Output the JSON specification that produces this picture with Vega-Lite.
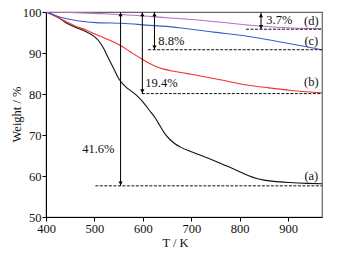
{
  "$schema": "https://vega.github.io/schema/vega-lite/v6.json",
  "autosize": {"type": "none"},
  "width": 276,
  "height": 205,
  "padding": {"left": 46, "top": 12, "right": 24, "bottom": 37},
  "background": "white",
  "config": {
    "view": {"stroke": "#666", "strokeWidth": 1.2},
    "font": "Times New Roman, Liberation Serif, serif",
    "text": {"font": "Times New Roman, Liberation Serif, serif"},
    "axis": {"grid": false, "domainColor": "#000", "tickColor": "#000", "labelColor": "#111", "titleColor": "#111", "labelFont": "Times New Roman, Liberation Serif, serif", "titleFont": "Times New Roman, Liberation Serif, serif", "labelFontSize": 12.5, "titleFontSize": 12.5, "titleFontWeight": "normal"}
  },
  "datasets": {
    "curves": [
      {"s":"a","T":400,"W":100},{"s":"a","T":420,"W":99.1},{"s":"a","T":441,"W":97.4},{"s":"a","T":460,"W":96.3},{"s":"a","T":483,"W":95.2},{"s":"a","T":500,"W":94},{"s":"a","T":510,"W":92.8},{"s":"a","T":520,"W":90.9},{"s":"a","T":527,"W":89.2},{"s":"a","T":535,"W":87.3},{"s":"a","T":541,"W":85.9},{"s":"a","T":551,"W":83.6},{"s":"a","T":560,"W":82.3},{"s":"a","T":569,"W":81.3},{"s":"a","T":586,"W":79.8},{"s":"a","T":600,"W":78.1},{"s":"a","T":613,"W":76.1},{"s":"a","T":627,"W":73.9},{"s":"a","T":635,"W":72.3},{"s":"a","T":645,"W":70.4},{"s":"a","T":656,"W":68.9},{"s":"a","T":667,"W":67.8},{"s":"a","T":677,"W":67.1},{"s":"a","T":700,"W":65.9},{"s":"a","T":718,"W":65.1},{"s":"a","T":760,"W":63.1},{"s":"a","T":801,"W":61},{"s":"a","T":820,"W":60},{"s":"a","T":835,"W":59.4},{"s":"a","T":850,"W":59},{"s":"a","T":870,"W":58.7},{"s":"a","T":904,"W":58.4},{"s":"a","T":940,"W":58.2},{"s":"a","T":970,"W":58.1},
      {"s":"b","T":400,"W":100},{"s":"b","T":420,"W":98.9},{"s":"b","T":441,"W":97.7},{"s":"b","T":460,"W":96.6},{"s":"b","T":483,"W":95.6},{"s":"b","T":500,"W":94.7},{"s":"b","T":524,"W":93.5},{"s":"b","T":551,"W":92},{"s":"b","T":565,"W":91},{"s":"b","T":579,"W":89.9},{"s":"b","T":600,"W":88.4},{"s":"b","T":615,"W":87.4},{"s":"b","T":627,"W":86.7},{"s":"b","T":645,"W":86},{"s":"b","T":662,"W":85.6},{"s":"b","T":682,"W":85.2},{"s":"b","T":700,"W":84.8},{"s":"b","T":746,"W":83.8},{"s":"b","T":780,"W":83},{"s":"b","T":815,"W":82.2},{"s":"b","T":860,"W":81.5},{"s":"b","T":897,"W":81},{"s":"b","T":930,"W":80.6},{"s":"b","T":970,"W":80.3},
      {"s":"c","T":400,"W":100},{"s":"c","T":420,"W":99.1},{"s":"c","T":441,"W":98.4},{"s":"c","T":469,"W":97.8},{"s":"c","T":503,"W":97.4},{"s":"c","T":565,"W":97.2},{"s":"c","T":607,"W":96.8},{"s":"c","T":648,"W":96.5},{"s":"c","T":680,"W":96.1},{"s":"c","T":746,"W":95.1},{"s":"c","T":815,"W":94.1},{"s":"c","T":884,"W":92.7},{"s":"c","T":930,"W":91.7},{"s":"c","T":970,"W":90.8},
      {"s":"d","T":400,"W":100},{"s":"d","T":450,"W":99.9},{"s":"d","T":512,"W":99.6},{"s":"d","T":580,"W":99.2},{"s":"d","T":649,"W":98.6},{"s":"d","T":718,"W":98},{"s":"d","T":786,"W":97.2},{"s":"d","T":842,"W":96.6},{"s":"d","T":910,"W":96.1},{"s":"d","T":970,"W":95.9}
    ],
    "dashes": [
      {"x1":502,"x2":970,"y":57.6},
      {"x1":598,"x2":970,"y":80.1},
      {"x1":611,"x2":970,"y":90.8},
      {"x1":813,"x2":970,"y":95.8}
    ],
    "arrows": [
      {"x":554,"top":100,"bottom":57.6},
      {"x":599,"top":100,"bottom":80.1},
      {"x":624,"top":100,"bottom":90.8},
      {"x":844,"top":99.8,"bottom":95.8}
    ],
    "pctc": [
      {"label":"41.6%","x":508,"y":66.7}
    ],
    "pctl": [
      {"label":"19.4%","x":605,"y":82.7},
      {"label":"8.8%","x":632,"y":92.9},
      {"label":"3.7%","x":855,"y":98.1}
    ],
    "tags": [
      {"label":"(a)","x":948,"y":59.9},
      {"label":"(b)","x":948,"y":82.9},
      {"label":"(c)","x":948,"y":92.9},
      {"label":"(d)","x":948,"y":97.8}
    ]
  },
  "layer": [
    {
      "data": {"name": "curves"},
      "mark": {"type": "line", "strokeWidth": 1.1, "clip": true, "interpolate": "monotone"},
      "encoding": {
        "x": {"field": "T", "type": "quantitative", "scale": {"domain": [400, 970], "nice": false, "zero": false},
          "axis": {"title": "T / K", "values": [400,450,500,550,600,650,700,750,800,850,900,950], "labelExpr": "datum.value % 100 === 0 ? datum.label : ''", "tickSize": {"expr": "datum.value % 100 === 0 ? 4 : 2.5"}, "labelPadding": 1, "titleX": 129, "titleY": 32, "titleBaseline": "bottom", "labelFlush": false, "labelOverlap": false}},
        "y": {"field": "W", "type": "quantitative", "scale": {"domain": [50, 100], "nice": false, "zero": false},
          "axis": {"title": "Weight / %", "values": [50,55,60,65,70,75,80,85,90,95,100], "labelExpr": "datum.value % 10 === 0 ? datum.label : ''", "tickSize": {"expr": "datum.value % 10 === 0 ? 4 : 2.5"}, "labelPadding": 1, "titleX": -30, "titleY": 102, "titleBaseline": "middle", "titleAngle": -90, "labelFlush": false, "labelOverlap": false}},
        "color": {"field": "s", "type": "nominal", "scale": {"domain": ["a","b","c","d"], "range": ["#111111", "#f03030", "#3a5cc8", "#b870c0"]}, "legend": null}
      }
    },
    {
      "data": {"name": "dashes"},
      "mark": {"type": "rule", "strokeDash": [3, 1.5], "color": "#111", "strokeWidth": 1},
      "encoding": {
        "x": {"field": "x1", "type": "quantitative"},
        "x2": {"field": "x2"},
        "y": {"field": "y", "type": "quantitative"}
      }
    },
    {
      "data": {"name": "arrows"},
      "mark": {"type": "rule", "color": "#000", "strokeWidth": 1},
      "encoding": {
        "x": {"field": "x", "type": "quantitative"},
        "y": {"field": "top", "type": "quantitative"},
        "y2": {"field": "bottom"}
      }
    },
    {
      "data": {"name": "arrows"},
      "mark": {"type": "point", "shape": "triangle-up", "filled": true, "color": "#000", "size": 18, "yOffset": 2.5, "opacity": 1},
      "encoding": {
        "x": {"field": "x", "type": "quantitative"},
        "y": {"field": "top", "type": "quantitative"}
      }
    },
    {
      "data": {"name": "arrows"},
      "mark": {"type": "point", "shape": "triangle-down", "filled": true, "color": "#000", "size": 18, "yOffset": -2.5, "opacity": 1},
      "encoding": {
        "x": {"field": "x", "type": "quantitative"},
        "y": {"field": "bottom", "type": "quantitative"}
      }
    },
    {
      "data": {"name": "pctc"},
      "mark": {"type": "text", "fontSize": 12.5, "color": "#111", "baseline": "middle", "align": "center"},
      "encoding": {
        "x": {"field": "x", "type": "quantitative"},
        "y": {"field": "y", "type": "quantitative"},
        "text": {"field": "label"}
      }
    },
    {
      "data": {"name": "pctl"},
      "mark": {"type": "text", "fontSize": 12.5, "color": "#111", "baseline": "middle", "align": "left"},
      "encoding": {
        "x": {"field": "x", "type": "quantitative"},
        "y": {"field": "y", "type": "quantitative"},
        "text": {"field": "label"}
      }
    },
    {
      "data": {"name": "tags"},
      "mark": {"type": "text", "fontSize": 12.5, "color": "#111", "baseline": "middle", "align": "center"},
      "encoding": {
        "x": {"field": "x", "type": "quantitative"},
        "y": {"field": "y", "type": "quantitative"},
        "text": {"field": "label"}
      }
    }
  ]
}
